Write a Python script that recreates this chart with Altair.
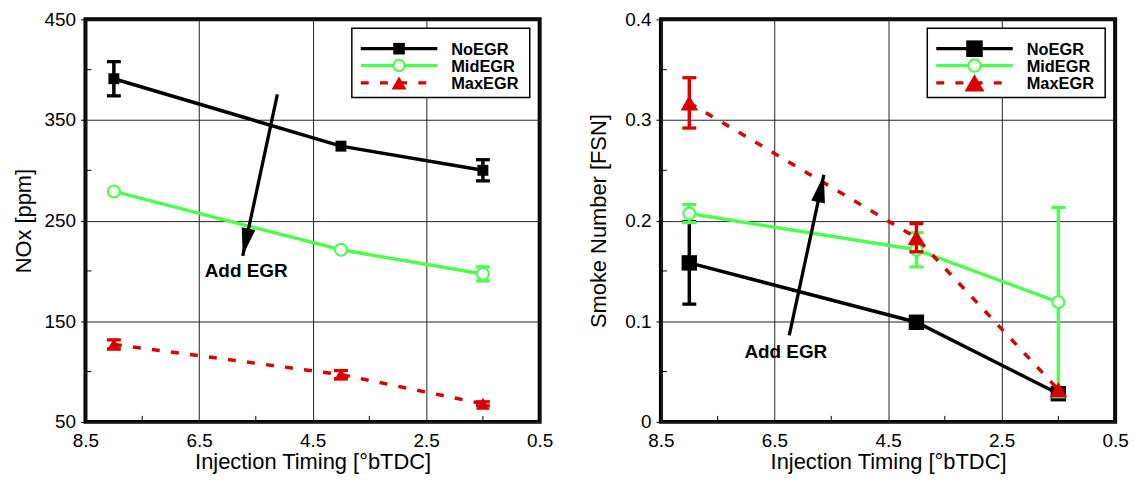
import altair as alt
import pandas as pd

# ---------------- data ----------------
timing = [8.0, 4.0, 1.5]
series = ["NoEGR", "MidEGR", "MaxEGR"]

nox_mean = {"NoEGR": [391, 324, 300], "MidEGR": [279, 221, 197], "MaxEGR": [127, 97, 68]}
nox_err = {"NoEGR": [17, 0, 10.5], "MidEGR": [0, 0, 7], "MaxEGR": [4.5, 4, 2]}

fsn_mean = {"NoEGR": [0.158, 0.099, 0.028], "MidEGR": [0.207, 0.171, 0.119], "MaxEGR": [0.317, 0.183, 0.032]}
fsn_err = {"NoEGR": [0.041, 0, 0], "MidEGR": [0.009, 0.017, 0.094], "MaxEGR": [0.025, 0.014, 0]}

x_ticks = [8.5, 6.5, 4.5, 2.5, 0.5]
x_minor = [7.5, 5.5, 3.5, 1.5]
nox_ticks = [50, 150, 250, 350, 450]
nox_minor = [100, 200, 300, 400]
fsn_ticks = [0, 0.1, 0.2, 0.3, 0.4]
fsn_minor = [0.05, 0.15, 0.25, 0.35]

# annotation arrows (data coordinates)
nox_arrow = {"x": [5.12], "y": [375.5], "x2": [5.73], "y2": [215]}
nox_note = {"x": [5.67], "y": [200], "label": ["Add EGR"]}
fsn_arrow = {"x": [6.24], "y": [0.086], "x2": [5.63], "y2": [0.2455]}
fsn_note = {"x": [6.30], "y": [0.0697], "label": ["Add EGR"]}

# ---------------- styles ----------------
FONT = "Liberation Sans"
GREEN = "#4dff4d"
RED = "#d90000"
style = {
    "NoEGR": dict(color="black", shape="square", dash=None, open=False),
    "MidEGR": dict(color=GREEN, shape="circle", dash=None, open=True),
    "MaxEGR": dict(color=RED, shape="triangle-up", dash=[8, 11.3], open=False),
}
ARROW_HEAD = "M0,0 L-0.5,-2 L0.5,-2 Z"


def point_kw(s, size):
    st = style[s]
    if st["open"]:
        return dict(shape=st["shape"], filled=True, fill="white",
                    stroke=st["color"], strokeWidth=2.2, size=size, opacity=1)
    return dict(shape=st["shape"], filled=True, color=st["color"], size=size, opacity=1)


def line_kwargs(s, width=3.5):
    st = style[s]
    kw = dict(color=st["color"], strokeWidth=width)
    if st["dash"]:
        kw["strokeDash"] = st["dash"]
    return kw


def panel(means, errs, yticks, yminor, ydomain, ytitle, label_expr, ytitle_pad,
          arrow, note, head_angle, sizes, leg, W, H):
    xs = alt.Scale(domain=[0.5, 8.5], reverse=True, nice=False, zero=False)
    ys = alt.Scale(domain=ydomain, nice=False, zero=False)
    xa = alt.Axis(values=x_ticks, format=".1f", title="Injection Timing [°bTDC]")
    ya = alt.Axis(values=yticks, labelExpr=label_expr, title=ytitle, titlePadding=ytitle_pad)

    def X(f):
        return alt.X(f, type="quantitative", scale=xs, axis=xa)

    def Y(f):
        return alt.Y(f, type="quantitative", scale=ys, axis=ya)

    layers = []
    # minor inward ticks
    layers.append(alt.Chart(pd.DataFrame({"v": x_minor})).mark_rule(color="black", strokeWidth=1)
                  .encode(x=X("v"), y=alt.value(H), y2=alt.value(H - 6)))
    layers.append(alt.Chart(pd.DataFrame({"v": yminor})).mark_rule(color="black", strokeWidth=1)
                  .encode(y=Y("v"), x=alt.value(0), x2=alt.value(6)))

    for s in series:
        df = pd.DataFrame({"t": timing, "v": means[s], "e": errs[s]})
        df["lo"] = df["v"] - df["e"]
        df["hi"] = df["v"] + df["e"]
        edf = df[df["e"] > 0]
        c = style[s]["color"]
        layers.append(alt.Chart(df).mark_line(**line_kwargs(s, 3.5)).encode(x=X("t"), y=Y("v")))
        eb = alt.Chart(edf)
        layers.append(eb.mark_rule(color=c, strokeWidth=3.5).encode(x=X("t"), y=Y("lo"), y2="hi"))
        layers.append(eb.mark_tick(orient="horizontal", color=c, size=14, thickness=3.3, opacity=1)
                      .encode(x=X("t"), y=Y("lo")))
        layers.append(eb.mark_tick(orient="horizontal", color=c, size=14, thickness=3.3, opacity=1)
                      .encode(x=X("t"), y=Y("hi")))
        layers.append(alt.Chart(df).mark_point(**point_kw(s, sizes[s])).encode(x=X("t"), y=Y("v")))

    # annotation arrow
    adf = pd.DataFrame(arrow)
    layers.append(alt.Chart(adf).mark_rule(color="black", strokeWidth=3.3)
                  .encode(x=X("x"), y=Y("y"), x2="x2", y2="y2"))
    layers.append(alt.Chart(adf).mark_point(shape=ARROW_HEAD, filled=True, color="black",
                                            size=784, angle=head_angle, opacity=1)
                  .encode(x=X("x2"), y=Y("y2")))
    layers.append(alt.Chart(pd.DataFrame(note)).mark_text(font=FONT, fontSize=19, fontWeight="bold",
                                                          color="black", align="center", baseline="middle")
                  .encode(x=X("x"), y=Y("y"), text="label:N"))

    # legend box
    one = pd.DataFrame({"k": [0]})
    layers.append(alt.Chart(one).mark_rect(fill="white", stroke="black", strokeWidth=1.5)
                  .encode(x=alt.value(leg["x1"]), x2=alt.value(leg["x2"]),
                          y=alt.value(leg["y1"]), y2=alt.value(leg["y2"])))
    for i, s in enumerate(series):
        ry = leg["rows"][i]
        sdf = pd.DataFrame({"name": [s]})
        layers.append(alt.Chart(sdf).mark_rule(**line_kwargs(s, 3.3))
                      .encode(x=alt.value(leg["lx1"]), x2=alt.value(leg["lx2"]), y=alt.value(ry)))
        layers.append(alt.Chart(sdf).mark_point(**point_kw(s, leg["sizes"][s]))
                      .encode(x=alt.value(leg["mx"]), y=alt.value(ry)))
        layers.append(alt.Chart(sdf).mark_text(font=FONT, fontSize=16.5, fontWeight="bold", color="black",
                                               align="left", baseline="middle")
                      .encode(x=alt.value(leg["tx"]), y=alt.value(ry + 1), text="name:N"))

    return alt.layer(*layers).properties(width=W, height=H)


H = 405
W = 457
LEG = dict(x1=268, x2=447, y1=9, y2=78.5, rows=[29.5, 46.5, 64], lx1=277, lx2=354, mx=315.5, tx=368)

left = panel(nox_mean, nox_err, nox_ticks, nox_minor, [50, 450], "NOx [ppm]",
             "format(datum.value, 'd')", 9, nox_arrow, nox_note, 12,
             {"NoEGR": 121, "MidEGR": 144, "MaxEGR": 196},
             dict(LEG, sizes={"NoEGR": 136, "MidEGR": 128, "MaxEGR": 225}),
             W, H)

right = panel(fsn_mean, fsn_err, fsn_ticks, fsn_minor, [0, 0.4], "Smoke Number [FSN]",
              "datum.value == 0 ? '0' : format(datum.value, '.1f')", 14.5, fsn_arrow, fsn_note, 192,
              {"NoEGR": 240, "MidEGR": 144, "MaxEGR": 313},
              dict(LEG, sizes={"NoEGR": 278, "MidEGR": 156, "MaxEGR": 400}),
              W, H)

chart = (
    alt.hconcat(left, right, spacing=30)
    .properties(padding={"left": 10, "top": 7, "right": 5, "bottom": 5}, background="white")
    .configure_view(stroke="black", strokeWidth=4)
    .configure_axis(labelFont=FONT, labelFontSize=19, labelColor="black",
                    titleFont=FONT, titleFontSize=22, titleFontWeight="normal", titleColor="black",
                    grid=True, gridColor="#222222", gridWidth=1, gridOpacity=1, domain=False,
                    labelFlush=False, labelOverlap=False)
    .configure_axisX(ticks=False, labelPadding=10, titlePadding=1)
    .configure_axisY(ticks=True, tickSize=5, tickColor="black", tickWidth=1, labelPadding=5)
)

chart.save("out.html", embed_options={"renderer": "svg", "actions": False})
